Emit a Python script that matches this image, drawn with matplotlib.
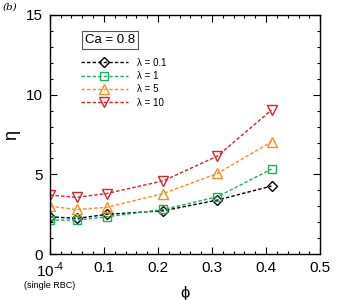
import matplotlib
matplotlib.use("Agg")
import matplotlib.pyplot as plt
from matplotlib.ticker import MultipleLocator

plt.rcParams['font.family'] = ['Liberation Sans', 'DejaVu Sans']
plt.rcParams['mathtext.fontset'] = 'custom'
plt.rcParams['mathtext.rm'] = 'Liberation Sans'

phi = [0.0001, 0.05, 0.105, 0.21, 0.31, 0.41]
eta_01 = [2.34, 2.24, 2.49, 2.72, 3.39, 4.27]
eta_1 = [2.13, 2.13, 2.34, 2.80, 3.60, 5.33]
eta_5 = [3.00, 2.80, 2.93, 3.80, 5.06, 7.05]
eta_10 = [3.70, 3.56, 3.80, 4.60, 6.15, 9.04]

labels = ['λ = 0.1', 'λ = 1', 'λ = 5', 'λ = 10']
colors = ['#000000', '#1fae5a', '#ff8c1a', '#e0202a']
markers = ['D', 's', '^', 'v']
msizes = [5.5, 5.5, 7, 7]

xticks = [0.0001, 0.1, 0.2, 0.3, 0.4, 0.5]
xticklabels = [r'10$^{\text{-4}}$', '0.1', '0.2', '0.3', '0.4', '0.5']
yticks = [0, 5, 10, 15]

fig = plt.figure(figsize=(3.37, 3.0), dpi=100)
ax = fig.add_axes([0.148, 0.153, 0.802, 0.797])

for y, lab, c, m, ms in zip([eta_01, eta_1, eta_5, eta_10], labels, colors, markers, msizes):
    ax.plot(phi, y, linestyle=(0, (2.5, 1.5)), color=c, lw=1.0, marker=m, ms=ms,
            mfc='none', mec=c, mew=1.0, label=lab)

ax.set_xlim(0, 0.5)
ax.set_ylim(0, 15)
ax.set_xticks(xticks)
ax.set_xticklabels(xticklabels, fontsize=11)
ax.set_yticks(yticks)
ax.set_yticklabels([str(v) for v in yticks], fontsize=11)
ax.xaxis.set_minor_locator(MultipleLocator(0.02))
ax.yaxis.set_minor_locator(MultipleLocator(1))
ax.tick_params(which='both', direction='in', top=True, right=True, width=0.8)
ax.tick_params(which='major', length=5)
ax.tick_params(axis='x', which='major', pad=5)
ax.tick_params(axis='y', which='major', pad=5)
ax.tick_params(which='minor', length=2.5)
for s in ax.spines.values():
    s.set_linewidth(1.0)

ax.set_xlabel('ϕ', fontsize=12, labelpad=4)
ax.set_ylabel('η', fontsize=13, labelpad=4)

ax.text(0.0, -0.112, '(single RBC)', transform=ax.transAxes, fontsize=6.5,
        ha='center', va='top')
fig.text(0.008, 0.99, '(b)', fontsize=7.5, style='italic', family='DejaVu Serif',
         ha='left', va='top')

ax.text(0.222, 0.895, 'Ca = 0.8', transform=ax.transAxes, fontsize=9.5,
        ha='center', va='center',
        bbox=dict(boxstyle='square,pad=0.25', fc='white', ec='#555555', lw=0.8))

ax.legend(loc='upper left', bbox_to_anchor=(0.09, 0.85), frameon=False, fontsize=7,
          handlelength=4.8, handletextpad=1.0, labelspacing=0.35, borderpad=0.2)

fig.savefig('out.png', dpi=100)
